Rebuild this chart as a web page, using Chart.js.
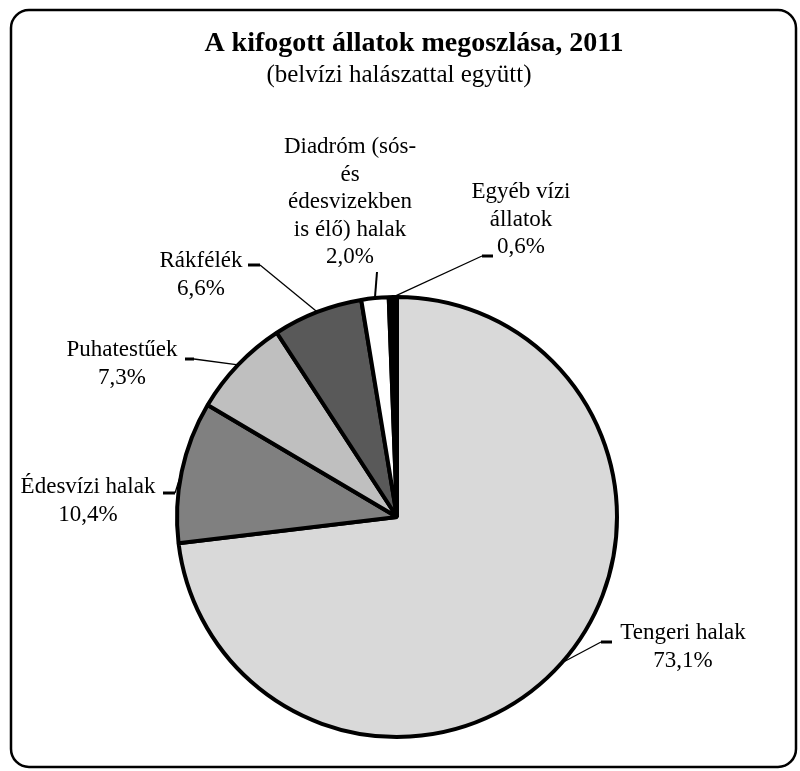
<!DOCTYPE html>
<html>
<head>
<meta charset="utf-8">
<script src="https://cdn.jsdelivr.net/npm/chart.js@4.4.1/dist/chart.umd.min.js"></script>
<style>
  html, body { margin: 0; padding: 0; background: #fff; }
  #wrap { width: 800px; height: 771px; position: relative; }
</style>
</head>
<body>
<div id="wrap"><canvas id="pie"></canvas></div>
<script>
const categories = [
  ['Tengeri halak'],
  ['Édesvízi halak'],
  ['Puhatestűek'],
  ['Rákfélék'],
  ['Diadróm (sós-', 'és', 'édesvizekben', 'is élő) halak'],
  ['Egyéb vízi', 'állatok']
];
const shares = [73.1, 10.4, 7.3, 6.6, 2.0, 0.6];
const fills = ['#d9d9d9', '#808080', '#bfbfbf', '#595959', '#ffffff', '#000000'];

const titleText = 'A kifogott állatok megoszlása, 2011';
const subtitleText = '(belvízi halászattal együtt)';

// label block: centre x, first line y, elbow [x1, x2, y] (x2 is the end nearer the pie)
const labelLayout = [
  { x: 683, y: 633, elbow: [612, 601, 642] },
  { x: 88, y: 487, elbow: [163, 175, 493] },
  { x: 122, y: 350, elbow: [185, 194, 359] },
  { x: 201, y: 261, elbow: [248, 260, 265] },
  { x: 350, y: 147, vertical: [377, 272] },
  { x: 521, y: 192, elbow: [493, 482, 256] }
];
const lineHeight = 27.5;
const serif = '"Liberation Serif", "DejaVu Serif", serif';

const fmt = v => v.toFixed(1).replace('.', ',') + '%';

const frame = {
  id: 'frame',
  beforeDraw(chart) {
    const c = chart.ctx;
    c.save();
    c.fillStyle = '#fff';
    c.fillRect(0, 0, chart.width, chart.height);
    c.beginPath();
    c.roundRect(11, 10, 785, 757, 18);
    c.lineWidth = 2.5;
    c.strokeStyle = '#000';
    c.stroke();
    c.restore();
  }
};

const labels = {
  id: 'labels',
  afterDraw(chart) {
    const c = chart.ctx;
    const arcs = chart.getDatasetMeta(0).data;
    c.save();
    c.fillStyle = '#000';
    c.textAlign = 'center';
    c.textBaseline = 'alphabetic';
    c.font = 'bold 28px ' + serif;
    c.fillText(titleText, 414, 51);
    c.font = '25px ' + serif;
    c.fillText(subtitleText, 399, 82);

    c.textBaseline = 'middle';
    arcs.forEach((arc, i) => {
      const p = arc.getProps(['x', 'y', 'startAngle', 'endAngle', 'outerRadius'], true);
      const mid = (p.startAngle + p.endAngle) / 2;
      const ax = p.x + Math.cos(mid) * p.outerRadius;
      const ay = p.y + Math.sin(mid) * p.outerRadius;
      const lay = labelLayout[i];
      c.strokeStyle = '#000';
      if (lay.vertical) {
        c.lineWidth = 2;
        c.beginPath();
        c.moveTo(lay.vertical[0], lay.vertical[1]);
        c.lineTo(ax, ay);
        c.stroke();
      } else {
        const [x1, x2, ey] = lay.elbow;
        c.lineWidth = 3;
        c.beginPath();
        c.moveTo(x1, ey);
        c.lineTo(x2, ey);
        c.stroke();
        c.lineWidth = 1.3;
        c.beginPath();
        c.moveTo(x2, ey);
        c.lineTo(ax, ay);
        c.stroke();
      }
      const lines = categories[i].concat([fmt(shares[i])]);
      c.font = '23px ' + serif;
      lines.forEach((t, k) => c.fillText(t, lay.x, lay.y + k * lineHeight));
    });
    c.restore();
  }
};

new Chart(document.getElementById('pie'), {
  type: 'pie',
  data: {
    labels: categories.map(l => l.join(' ')),
    datasets: [{
      data: shares,
      backgroundColor: fills,
      borderColor: '#000',
      borderWidth: 4
    }]
  },
  options: {
    responsive: true,
    maintainAspectRatio: false,
    animation: false,
    layout: { padding: { left: 175, right: 181, top: 295, bottom: 32 } },
    plugins: {
      legend: { display: false },
      tooltip: { enabled: false }
    }
  },
  plugins: [frame, labels]
});
</script>
</body>
</html>
